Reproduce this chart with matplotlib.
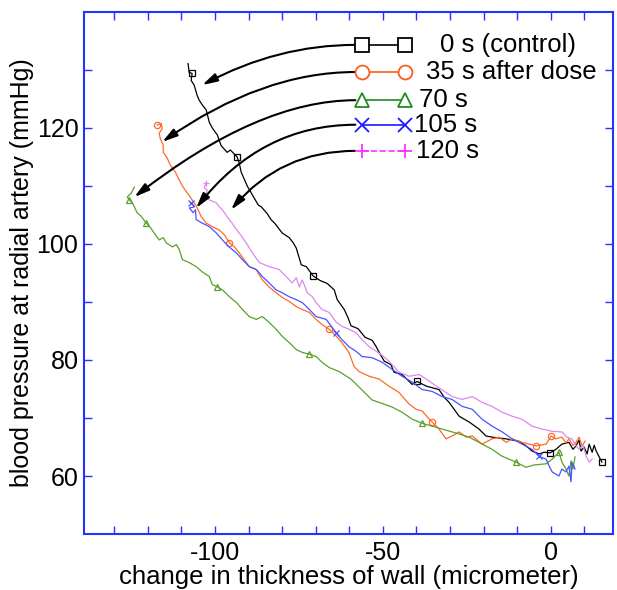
import numpy as np
import matplotlib
matplotlib.use("Agg")
import matplotlib.pyplot as plt

plt.rcParams['font.family'] = ['Liberation Sans', 'DejaVu Sans']
plt.rcParams['axes.unicode_minus'] = False

# 0 s (control)
ctrl_x = [-108.0, -107.7, -106.8, -107.1, -106.2, -105.3, -104.7, -103.8, -102.6, -101.7,
          -100.8, -99.3, -98.2, -96.4, -95.4, -93.4, -92.8, -92.2, -91.3, -90.4,
          -89.2, -88.0, -87.1, -86.2, -84.4, -83.3, -82.1, -80.0, -77.9, -76.7,
          -75.8, -74.3, -72.8, -70.8, -68.7, -66.6, -64.5, -63.6, -61.5, -60.4,
          -59.5, -57.4, -55.3, -53.2, -52.0, -51.1, -49.6, -47.6, -46.7, -44.3,
          -41.3, -39.8, -37.1, -33.3, -31.8, -30.3, -28.8, -27.3, -24.3, -21.4,
          -19.3, -17.5, -13.3, -9.5, -7.4, -5.6, -3.5, -2.0, -0.2, 1.5,
          3.3, 5.4, 6.6, 7.5, 8.4, 9.0, 9.9, 10.8, 11.4, 12.3,
          12.9, 13.5, 14.3, 15.2]
ctrl_y = [131.1, 129.6, 129.4, 128.2, 127.4, 125.6, 124.8, 124.0, 123.1, 121.0,
          120.0, 118.8, 117.0, 115.8, 116.2, 115.0, 114.0, 112.4, 111.2, 110.0,
          108.8, 107.6, 106.7, 106.4, 105.2, 104.2, 103.5, 101.9, 101.1, 100.2,
          99.3, 96.4, 96.1, 94.5, 93.7, 93.2, 92.1, 90.4, 88.7, 87.3,
          85.9, 85.4, 83.9, 83.4, 82.3, 81.3, 79.8, 79.2, 77.9, 77.5,
          75.8, 76.3, 75.5, 74.9, 73.6, 72.7, 71.5, 70.3, 69.3, 68.1,
          66.9, 66.7, 66.4, 66.0, 65.2, 64.3, 63.8, 64.1, 64.0, 64.6,
          65.5, 65.8, 64.6, 65.2, 66.2, 64.3, 65.0, 63.8, 65.5, 64.1,
          65.3, 64.3, 63.4, 62.4]
ctrl_marks = [2, 15, 33, 51, 68, 83]

# 35 s after dose
d35_x = [-117.2, -116.0, -115.7, -116.6, -116.3, -115.4, -115.4, -114.2, -113.3, -111.8,
         -110.6, -109.7, -108.5, -107.6, -106.8, -105.6, -104.7, -104.1, -102.6, -100.8,
         -98.7, -97.2, -95.7, -94.2, -92.8, -91.3, -89.8, -87.7, -85.9, -83.9,
         -81.8, -80.0, -77.9, -75.8, -74.0, -71.9, -69.9, -68.1, -66.0, -63.9,
         -62.2, -60.1, -58.6, -57.1, -54.1, -51.1, -48.2, -45.2, -42.2, -40.1,
         -38.3, -36.2, -35.3, -33.3, -31.2, -29.4, -27.3, -25.2, -23.4, -20.5,
         -17.5, -15.4, -13.3, -11.5, -8.6, -6.5, -4.4, -1.4, 0.1, 1.5,
         3.3, 4.5, 5.4, 6.6, 7.5, 8.4, 9.3, 10.2]
d35_y = [120.5, 120.8, 119.9, 119.1, 118.2, 117.0, 115.8, 114.8, 113.6, 112.4,
         111.0, 110.0, 109.0, 108.3, 107.6, 106.6, 105.5, 104.7, 103.6, 103.0,
         102.4, 101.6, 100.2, 99.5, 98.5, 97.3, 96.1, 95.6, 93.8, 92.6,
         91.6, 90.8, 90.1, 89.2, 88.7, 88.2, 87.0, 86.1, 85.3, 84.1,
         83.0, 81.3, 78.9, 78.0, 77.2, 76.7, 75.5, 74.4, 72.4, 71.5,
         71.2, 69.8, 69.3, 68.1, 66.4, 66.9, 67.6, 66.7, 66.9, 65.5,
         66.4, 66.7, 65.8, 66.4, 65.8, 65.5, 65.2, 65.5, 66.9, 66.4,
         66.7, 65.7, 66.4, 65.3, 65.8, 66.7, 65.2, 66.0]
d35_marks = [0, 22, 38, 52, 66, 68]

# 70 s
d70_x = [-124.0, -124.9, -126.1, -125.5, -124.6, -124.0, -123.2, -122.0, -120.5, -119.6,
         -118.7, -117.5, -116.6, -115.4, -114.5, -112.7, -111.5, -110.6, -109.7, -107.7,
         -105.6, -103.8, -101.7, -100.8, -99.3, -97.8, -95.7, -93.6, -91.8, -89.8,
         -87.7, -85.9, -83.9, -81.8, -80.0, -77.9, -75.8, -74.0, -71.9, -69.9,
         -68.1, -66.0, -63.0, -59.5, -57.4, -55.3, -53.2, -50.2, -47.3, -44.3,
         -41.3, -38.3, -35.4, -31.2, -28.2, -24.3, -21.4, -17.5, -14.5, -10.4,
         -7.4, -5.0, -1.4, 0.4, 2.4, 3.3, 4.5, 5.4, 6.0, 6.6,
         7.2]
d70_y = [109.8, 108.8, 108.1, 107.6, 107.1, 106.4, 105.4, 104.8, 103.6, 103.1,
         102.4, 101.4, 100.7, 101.1, 100.2, 99.5, 99.9, 99.0, 97.3, 96.8,
         96.1, 95.2, 94.4, 93.0, 92.6, 92.1, 90.9, 89.9, 88.7, 87.5,
         87.0, 87.5, 86.5, 85.3, 84.1, 83.0, 81.8, 81.3, 81.0, 80.6,
         79.6, 78.7, 78.0, 76.7, 75.5, 74.3, 73.1, 72.5, 71.9, 71.0,
         69.8, 69.1, 68.6, 67.9, 67.4, 66.7, 65.8, 64.6, 63.4, 62.4,
         61.5, 61.9, 62.1, 62.9, 64.1, 62.4, 61.2, 60.0, 62.6, 61.2,
         63.3]
d70_marks = [3, 8, 24, 38, 51, 59, 64]

# 105 s
d105_x = [-107.1, -106.1, -107.6, -106.5, -105.8, -105.6, -103.8, -101.7, -99.6, -97.8,
          -95.8, -93.7, -91.8, -89.8, -87.7, -85.9, -83.9, -81.8, -80.0, -77.9,
          -75.8, -74.0, -71.9, -69.9, -66.9, -63.9, -62.2, -60.1, -58.0, -56.2,
          -53.2, -50.2, -47.3, -44.3, -41.3, -38.3, -35.4, -32.4, -29.4, -26.4,
          -23.4, -20.5, -17.5, -14.5, -11.5, -8.6, -5.6, -3.5, -1.4, -0.5,
          0.4, 2.4, 3.3, 4.5, 5.4, 6.0, 6.3, 7.2]
d105_y = [107.1, 106.4, 106.2, 105.4, 105.9, 104.2, 103.6, 103.0, 101.9, 100.7,
          99.5, 98.5, 97.3, 96.1, 95.6, 94.4, 93.3, 92.1, 91.6, 90.9,
          90.4, 89.9, 88.7, 87.5, 87.0, 84.7, 83.5, 82.3, 81.5, 80.6,
          80.4, 79.6, 78.4, 77.2, 76.2, 74.9, 74.6, 73.7, 73.2, 72.0,
          71.5, 69.8, 68.6, 67.6, 66.4, 65.5, 64.6, 63.4, 62.9, 61.7,
          60.7, 60.0, 61.2, 60.7, 61.7, 59.0, 62.4, 61.2]
d105_marks = [0, 25, 47]

# 120 s
d120_x = [-102.6, -103.2, -102.3, -102.9, -101.7, -99.6, -98.7, -97.8, -96.4, -94.9,
          -94.0, -92.8, -90.7, -88.9, -86.8, -83.9, -80.9, -78.8, -77.0, -75.8,
          -74.9, -74.0, -72.5, -71.0, -69.9, -68.1, -66.0, -63.9, -62.2, -60.1,
          -58.0, -56.2, -54.1, -52.0, -50.2, -48.2, -45.2, -42.2, -39.2, -37.1,
          -34.1, -31.2, -29.4, -26.4, -23.4, -20.5, -17.5, -14.5, -11.5, -8.6,
          -5.6, -2.6, 0.4, 3.3, 4.8, 6.3, 7.5, 8.4, 9.6, 10.5,
          11.4, 12.3]
d120_y = [110.5, 109.7, 109.3, 108.3, 107.6, 107.1, 106.4, 105.9, 104.7, 103.6,
          102.8, 101.9, 100.2, 98.5, 96.8, 96.1, 95.6, 94.4, 93.3, 94.2,
          92.6, 93.8, 91.6, 90.9, 89.9, 88.7, 88.2, 86.5, 85.8, 85.3,
          84.7, 83.5, 82.3, 81.5, 80.8, 79.8, 77.9, 77.2, 77.5, 76.7,
          75.5, 74.4, 73.7, 73.2, 73.7, 72.7, 72.0, 71.0, 70.3, 69.8,
          68.6, 68.1, 67.7, 67.6, 66.7, 66.4, 65.2, 64.6, 65.3, 63.4,
          62.4, 62.9]
d120_marks = [0]

labels = ["0 s (control)", "35 s after dose", "70 s", "105 s", "120 s"]

fig = plt.figure(figsize=(6.17, 5.90), dpi=100)
ax = fig.add_axes([0.1361, 0.0949, 0.8574, 0.8848])

series = [
    (ctrl_x, ctrl_y, ctrl_marks, 'black', 's', 'black'),
    (d35_x, d35_y, d35_marks, '#ff6a2a', 'o', '#ff5a1f'),
    (d70_x, d70_y, d70_marks, '#5aa02c', '^', '#1f8c1f'),
    (d105_x, d105_y, d105_marks, '#4455ff', 'x', '#1a1aff'),
    (d120_x, d120_y, d120_marks, '#dd88ee', '+', '#ff33ff'),
]

for x, y, mk, col, m, lcol in series:
    ax.plot(x, y, color=col, lw=0.9, marker=m, markevery=mk, markersize=4.5,
            markerfacecolor='none', markeredgecolor=col, markeredgewidth=0.9)

# legend drawn by hand, with arrows to the starts of the traces
leg_y = [0.937, 0.885, 0.831, 0.784, 0.734]
txt_x = [0.673, 0.647, 0.633, 0.624, 0.628]
tips = [(-103.8, 127.4), (-115.7, 117.6), (-124.0, 108.1), (-105.6, 106.2), (-95.2, 105.9)]
tip_ang = [28, 35, 38, 52, 50]
leg_ls = ['-', '-', '-', '-', '--']

for i, (x, y, mk, col, m, lcol) in enumerate(series):
    ax.plot([0.526, 0.607], [leg_y[i], leg_y[i]], transform=ax.transAxes,
            color=lcol, ls=leg_ls[i], lw=1.2, marker=m, markersize=10,
            markerfacecolor='white', markeredgecolor=lcol, markeredgewidth=1.3,
            clip_on=False, zorder=5)
    ax.text(txt_x[i], leg_y[i], labels[i], transform=ax.transAxes, fontsize=18.5,
            va='center', ha='left')
    ax.annotate('', xy=tips[i], xycoords='data',
                xytext=(0.513, leg_y[i]), textcoords='axes fraction',
                arrowprops=dict(arrowstyle='-|>,head_length=0.9,head_width=0.25',
                                color='black', lw=1.5, shrinkA=0, shrinkB=0,
                                connectionstyle=f"angle3,angleA=0,angleB={tip_ang[i]}"),
                zorder=4)

ax.set_xlim(-139, 18.5)
ax.set_ylim(50, 140)
ax.set_xticks([-100, -50, 0])
ax.set_xticks(np.arange(-130, 20, 10), minor=True)
ax.set_yticks([60, 80, 100, 120])
ax.set_yticks(np.arange(60, 140, 10), minor=True)

blue = '#2233ff'
for s in ax.spines.values():
    s.set_color(blue)
    s.set_linewidth(1.5)
ax.tick_params(which='both', direction='in', top=True, right=True, color=blue,
               labelsize=18, width=1.0, length=6)
ax.tick_params(axis='x', which='major', pad=5)
ax.tick_params(axis='y', which='major', pad=4)

ax.set_xlabel("change in thickness of wall (micrometer)", fontsize=18.5, labelpad=0)
ax.set_ylabel("blood pressure at radial artery (mmHg)", fontsize=18, labelpad=2)

fig.savefig("out.png", dpi=100)
